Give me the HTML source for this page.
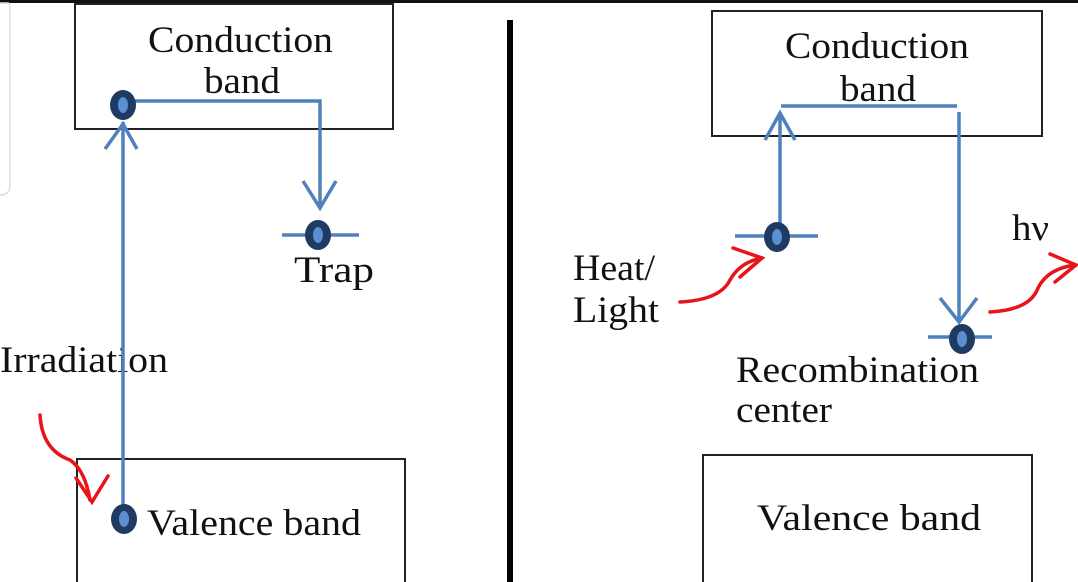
<!DOCTYPE html>
<html><head><meta charset="utf-8"><style>
html,body{margin:0;padding:0;background:#fff;width:1078px;height:582px;overflow:hidden}
text{font-family:"Liberation Serif",serif;fill:#111;font-size:37px}
</style></head><body>
<svg width="1078" height="582" viewBox="0 0 1078 582" xmlns="http://www.w3.org/2000/svg">
<rect x="0" y="0" width="1078" height="3" fill="#111"/>
<path d="M0 3 H8 Q10 3 10 8 V185 Q10 195 0 195" fill="none" stroke="#ddd" stroke-width="1.5"/>
<line x1="510" y1="20" x2="510" y2="582" stroke="#000" stroke-width="6"/>
<g fill="none" stroke="#222" stroke-width="2">
<rect x="75" y="4" width="318" height="125"/>
<rect x="77" y="459" width="328" height="130"/>
<rect x="712" y="11" width="330" height="125"/>
<rect x="703" y="455" width="329" height="130"/>
</g>
<text x="148" y="52" textLength="185" lengthAdjust="spacingAndGlyphs">Conduction</text>
<text x="204" y="93" textLength="76" lengthAdjust="spacingAndGlyphs">band</text>
<text x="294" y="282" textLength="80" lengthAdjust="spacingAndGlyphs">Trap</text>
<text x="0" y="372" textLength="168" lengthAdjust="spacingAndGlyphs">Irradiation</text>
<text x="147" y="535" textLength="214" lengthAdjust="spacingAndGlyphs">Valence band</text>
<text x="785" y="58" textLength="184" lengthAdjust="spacingAndGlyphs">Conduction</text>
<text x="840" y="101" textLength="76" lengthAdjust="spacingAndGlyphs">band</text>
<text x="573" y="280" textLength="82" lengthAdjust="spacingAndGlyphs">Heat/</text>
<text x="573" y="322" textLength="86" lengthAdjust="spacingAndGlyphs">Light</text>
<text x="1012" y="240" font-size="32" textLength="37" lengthAdjust="spacingAndGlyphs">hν</text>
<text x="736" y="382" textLength="243" lengthAdjust="spacingAndGlyphs">Recombination</text>
<text x="736" y="422" textLength="96" lengthAdjust="spacingAndGlyphs">center</text>
<text x="757" y="530" textLength="224" lengthAdjust="spacingAndGlyphs">Valence  band</text>
<g fill="none" stroke="#4f81bd" stroke-width="3.5">
<line x1="123" y1="510" x2="123" y2="122"/>
<polyline points="105,149 123,124 137,149"/>
<polyline points="123,101 320,101 320,207"/>
<polyline points="303,181 320,208 336,181"/>
<line x1="282" y1="235" x2="359" y2="235"/>
<line x1="780" y1="235" x2="780" y2="113"/>
<polyline points="765,140 780,113 795,140"/>
<line x1="781" y1="106" x2="957" y2="106"/>
<line x1="959" y1="112" x2="959" y2="322"/>
<polyline points="940,298 959,322 977,298"/>
<line x1="735" y1="236" x2="818" y2="236"/>
<line x1="928" y1="337" x2="992" y2="337"/>
</g>
<g fill="#1f3b63">
<ellipse cx="123" cy="105" rx="13" ry="15"/>
<ellipse cx="318" cy="235" rx="13" ry="15"/>
<ellipse cx="124" cy="519" rx="13" ry="15"/>
<ellipse cx="777" cy="237" rx="13" ry="15"/>
<ellipse cx="962" cy="339" rx="13" ry="15"/>
</g>
<g fill="#5b8fd0">
<ellipse cx="123" cy="105" rx="5" ry="8"/>
<ellipse cx="318" cy="235" rx="5" ry="8"/>
<ellipse cx="124" cy="519" rx="5" ry="8"/>
<ellipse cx="777" cy="237" rx="5" ry="8"/>
<ellipse cx="962" cy="339" rx="5" ry="8"/>
</g>
<g fill="none" stroke="#e8141a" stroke-width="3.5" stroke-linecap="round">
<path d="M40 415 Q42 450 70 460 Q85 470 90 500"/>
<polyline points="76,478 92,502 108,476"/>
<path d="M680 302 Q720 300 730 280 Q740 262 762 258"/>
<polyline points="733,248 762,258 740,277"/>
<path d="M990 312 Q1030 310 1038 288 Q1048 268 1076 265"/>
<polyline points="1050,254 1076,265 1055,282"/>
</g>
</svg>
</body></html>
